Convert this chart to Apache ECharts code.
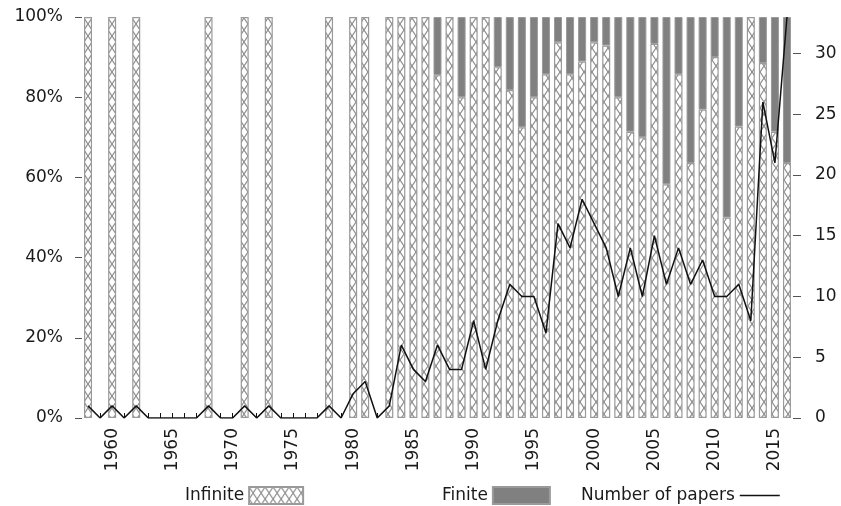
<!DOCTYPE html>
<html>
<head>
<meta charset="utf-8">
<script src="https://cdn.jsdelivr.net/npm/echarts@6/dist/echarts.min.js"></script>
<style>
html,body{margin:0;padding:0;background:#fff;}
#chart{width:841px;height:506px;}
</style>
</head>
<body>
<div id="chart"></div>
<script>
const years = ['1958','1959','1960','1961','1962','1963','1964','1965','1966','1967',
  '1968','1969','1970','1971','1972','1973','1974','1975','1976','1977',
  '1978','1979','1980','1981','1982','1983','1984','1985','1986','1987',
  '1988','1989','1990','1991','1992','1993','1994','1995','1996','1997',
  '1998','1999','2000','2001','2002','2003','2004','2005','2006','2007',
  '2008','2009','2010','2011','2012','2013','2014','2015','2016'];

// share of papers (%) — '-' means no papers that year
const infiniteShare = [100,'-',100,'-',100,'-','-','-','-','-',
  100,'-','-',100,'-',100,'-','-','-','-',
  100,'-',100,100,'-',100,100,100,100,85.5,
  100,80,100,100,87.5,81.8,72.5,80,85.7,93.7,
  85.7,88.9,93.7,92.9,80,71.4,70,93.3,58.3,85.7,
  63.6,76.9,90,50,72.7,100,88.5,71.4,63.6];

const finiteShare = ['-','-','-','-','-','-','-','-','-','-',
  '-','-','-','-','-','-','-','-','-','-',
  '-','-','-','-','-','-','-','-','-',14.5,
  '-',20,'-','-',12.5,18.2,27.5,20,14.3,6.3,
  14.3,11.1,6.3,7.1,20,28.6,30,6.7,41.7,14.3,
  36.4,23.1,10,50,27.3,'-',11.5,28.6,36.4];

const papers = [1,0,1,0,1,0,0,0,0,0,
  1,0,0,1,0,1,0,0,0,0,
  1,0,2,3,0,1,6,4,3,6,
  4,4,8,4,8,11,10,10,7,16,
  14,18,16,14,10,14,10,15,11,14,
  11,13,10,10,11,8,26,21,33];

const rightTicks = [0,5,10,15,20,25,30];

// cross-hatch pattern for the "Infinite" bars
function makeHatch(w, h) {
  const c = document.createElement('canvas');
  c.width = w; c.height = h;
  const g = c.getContext('2d');
  g.fillStyle = '#ffffff';
  g.fillRect(0, 0, w, h);
  g.strokeStyle = '#8c8c8c';
  g.lineWidth = 1.2;
  g.beginPath();
  g.moveTo(0, 0); g.lineTo(w, h);
  g.moveTo(w, 0); g.lineTo(0, h);
  g.stroke();
  return c;
}
const hatch = makeHatch(8, 12);

const FONT = 'DejaVu Sans';
const TXT = '#1a1a1a';
const FS = 17;

const chart = echarts.init(document.getElementById('chart'), null, {renderer: 'canvas'});
chart.setOption({
  animation: false,
  backgroundColor: '#ffffff',
  textStyle: {fontFamily: FONT},
  grid: {left: 82, right: 48, top: 17, bottom: 88, containLabel: false},
  legend: [
    {data: ['Infinite'], left: 180, top: 481, align: 'right', icon: 'rect', itemWidth: 54, itemHeight: 17,
     textStyle: {fontFamily: FONT, fontSize: FS, color: TXT}},
    {data: ['Finite'], left: 437, top: 481, align: 'right', icon: 'rect', itemWidth: 57, itemHeight: 17,
     textStyle: {fontFamily: FONT, fontSize: FS, color: TXT}},
    {data: ['Number of papers'], left: 576, top: 482, align: 'right', icon: 'rect', itemWidth: 40, itemHeight: 1.5,
     textStyle: {fontFamily: FONT, fontSize: FS, color: TXT}}
  ],
  xAxis: {
    type: 'category',
    data: years,
    boundaryGap: true,
    axisLine: {show: false},
    axisTick: {show: true, inside: true, length: 5, interval: 0, alignWithLabel: true,
      lineStyle: {color: '#111', width: 1}},
    axisLabel: {
      rotate: 90, margin: 10, fontSize: FS, color: TXT, fontFamily: FONT,
      interval: function (idx, val) { return Number(val) % 5 === 0; }
    },
    splitLine: {show: false}
  },
  yAxis: [
    {
      type: 'value', min: 0, max: 100, interval: 20, position: 'left',
      axisLine: {show: false},
      axisTick: {show: true, length: 7, lineStyle: {color: '#555'}},
      axisLabel: {formatter: '{value}%', fontSize: FS, color: TXT, margin: 19, fontFamily: FONT},
      splitLine: {show: false}
    },
    {
      type: 'value', min: 0, max: 33, position: 'right',
      axisLine: {show: false},
      axisTick: {show: true, length: 8, lineStyle: {color: '#555'}, customValues: rightTicks},
      axisLabel: {fontSize: FS, color: TXT, margin: 22, fontFamily: FONT, customValues: rightTicks},
      splitLine: {show: false}
    }
  ],
  series: [
    {
      name: 'Infinite', type: 'bar', stack: 'share', yAxisIndex: 0,
      data: infiniteShare, barWidth: 8,
      itemStyle: {color: {image: hatch, repeat: 'repeat'}, borderColor: '#9a9a9a', borderWidth: 1.2},
      z: 2
    },
    {
      name: 'Finite', type: 'bar', stack: 'share', yAxisIndex: 0,
      data: finiteShare, barWidth: 8,
      itemStyle: {color: '#808080', borderColor: '#9a9a9a', borderWidth: 1},
      z: 2
    },
    {
      name: 'Number of papers', type: 'line', yAxisIndex: 1,
      data: papers, symbol: 'none', smooth: false,
      lineStyle: {color: '#111', width: 1.5},
      itemStyle: {color: '#111'},
      z: 5
    }
  ]
});
</script>
</body>
</html>
